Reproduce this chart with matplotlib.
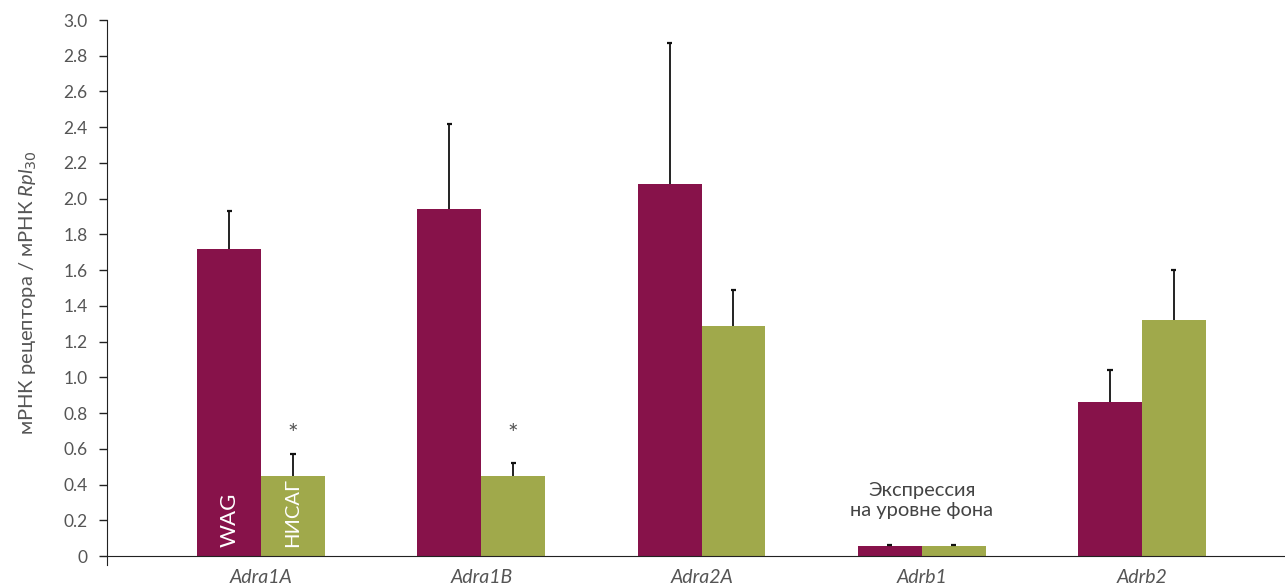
import numpy as np
import matplotlib
matplotlib.use("Agg")
import matplotlib.pyplot as plt

genes = ["Adra1A", "Adra1B", "Adra2A", "Adrb1", "Adrb2"]
wag_mean = [1.72, 1.94, 2.08, 0.055, 0.86]
wag_err = [0.21, 0.48, 0.79, 0.005, 0.18]
nisag_mean = [0.45, 0.45, 1.29, 0.055, 1.32]
nisag_err = [0.12, 0.07, 0.20, 0.005, 0.28]
star_genes = [0, 1]
y_ticks = [0, 0.2, 0.4, 0.6, 0.8, 1.0, 1.2, 1.4, 1.6, 1.8, 2.0, 2.2, 2.4, 2.6, 2.8, 3.0]
y_tick_labels = ["0"] + [f"{v:.1f}" for v in y_ticks[1:]]

WAG_COLOR = "#87124a"
NISAG_COLOR = "#a0a94b"
TEXT_GRAY = "#555555"

plt.rcParams["font.family"] = ["Lato", "DejaVu Sans"]
plt.rcParams["mathtext.fontset"] = "custom"
plt.rcParams["mathtext.rm"] = "Lato"
plt.rcParams["mathtext.it"] = "Lato:italic"


def upper_errorbars(ax, xpos, mean, err, cap=0.012):
    tops = np.array(mean) + np.array(err)
    ax.vlines(xpos, mean, tops, color="#111111", lw=1.3, zorder=3)
    ax.hlines(tops, xpos - cap, xpos + cap, color="#111111", lw=1.6, zorder=3)


fig = plt.figure(figsize=(12.85, 5.87), dpi=100)
ax = fig.add_axes([0.0833, 0.0375, 0.9167, 0.9284])

# spines first: set_position resets the tick objects
ax.spines["top"].set_visible(False)
ax.spines["right"].set_visible(False)
ax.spines["bottom"].set_position(("data", 0))
ax.spines["bottom"].set_color("#222222")
ax.spines["left"].set_color("#222222")

x = np.arange(len(genes))
width = 0.29

ax.bar(x - width / 2, wag_mean, width, color=WAG_COLOR, zorder=2)
ax.bar(x + width / 2, nisag_mean, width, color=NISAG_COLOR, zorder=2)
upper_errorbars(ax, x - width / 2, wag_mean, wag_err)
upper_errorbars(ax, x + width / 2, nisag_mean, nisag_err)

# labels inside the first pair of bars
ax.text(x[0] - width / 2, 0.05, "WAG", rotation=90, color="white",
        ha="center", va="bottom", fontsize=16)
ax.text(x[0] + width / 2, 0.05, "НИСАГ", rotation=90, color="white",
        ha="center", va="bottom", fontsize=14.5)

for i in star_genes:
    ax.text(x[i] + width / 2, 0.68, "*", color=TEXT_GRAY, ha="center",
            va="center", fontsize=18)

ax.text(x[3], 0.31, "Экспрессия\nна уровне фона", color="#444444",
        ha="center", va="center", fontsize=14.5, linespacing=1.2)

ax.set_xlim(-0.7, 4.65)
ax.set_ylim(-0.05, 3.0)
ax.spines["left"].set_bounds(-0.05, 3.0)
ax.set_yticks(y_ticks)
ax.set_yticklabels(y_tick_labels)
ax.set_xticks(x)
ax.tick_params(axis="x", length=0, pad=9)
ax.set_xticklabels(genes, fontstyle="italic", fontsize=14, color=TEXT_GRAY)
ax.tick_params(axis="y", direction="out", length=6, width=1, colors="#222222",
               labelcolor=TEXT_GRAY, labelsize=12.5, pad=8)

ax.set_ylabel("мРНК рецептора / мРНК $\\mathit{Rpl}_{\\mathsf{30}}$", color=TEXT_GRAY,
              fontsize=14.5, labelpad=18)

fig.savefig("out.png", dpi=100)
